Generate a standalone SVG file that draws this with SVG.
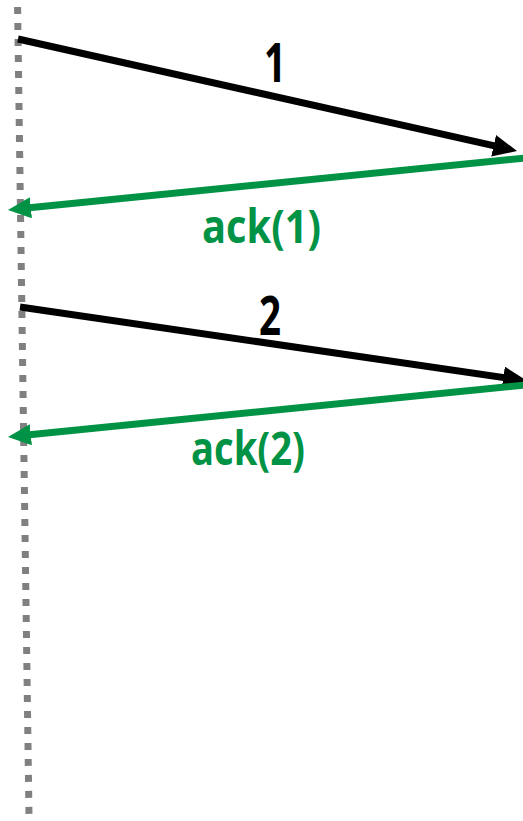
<svg xmlns="http://www.w3.org/2000/svg" width="523" height="821" viewBox="0 0 523 821">
<style>
.lbl{font-family:"Open Sans","Liberation Sans",sans-serif;font-weight:bold;}
.blk{stroke:#000;stroke-width:7;fill:none;}
.grn{stroke:#009245;stroke-width:7;fill:none;}
</style>
<defs>
<marker id="hb" markerUnits="userSpaceOnUse" markerWidth="24" markerHeight="22" refX="9" refY="11" orient="auto" viewBox="0 0 24 22"><path d="M0,0 L24,11 L0,22 z" fill="#000"/></marker>
<marker id="hg" markerUnits="userSpaceOnUse" markerWidth="23" markerHeight="21" refX="9" refY="10.5" orient="auto" viewBox="0 0 23 21"><path d="M0,0 L23,10.5 L0,21 z" fill="#009245"/></marker>
</defs>
<g id="timeline"><line x1="17.5" y1="0" x2="29" y2="816" stroke="#808080" stroke-width="7" stroke-dasharray="7 9" stroke-dashoffset="9"/></g>
<g id="connectors">
<line class="blk" x1="18" y1="39" x2="502.4" y2="147.7" marker-end="url(#hb)"/>
<line class="grn" x1="525" y1="158" x2="21.9" y2="208.6" marker-end="url(#hg)"/>
<line class="blk" x1="20" y1="307" x2="512.2" y2="378.8" marker-end="url(#hb)"/>
<line class="grn" x1="525" y1="385" x2="21.9" y2="435.6" marker-end="url(#hg)"/>
</g>
<g id="labels">
<text class="lbl" x="275" y="82" font-size="54" text-anchor="middle" fill="#000" textLength="22" lengthAdjust="spacingAndGlyphs">1</text>
<text class="lbl" x="202" y="243" font-size="47" fill="#009245" textLength="119" lengthAdjust="spacingAndGlyphs">ack(1)</text>
<text class="lbl" x="270" y="335" font-size="53" text-anchor="middle" fill="#000" textLength="22" lengthAdjust="spacingAndGlyphs">2</text>
<text class="lbl" x="191" y="465" font-size="47" fill="#009245" textLength="114" lengthAdjust="spacingAndGlyphs">ack(2)</text>
</g>
</svg>
